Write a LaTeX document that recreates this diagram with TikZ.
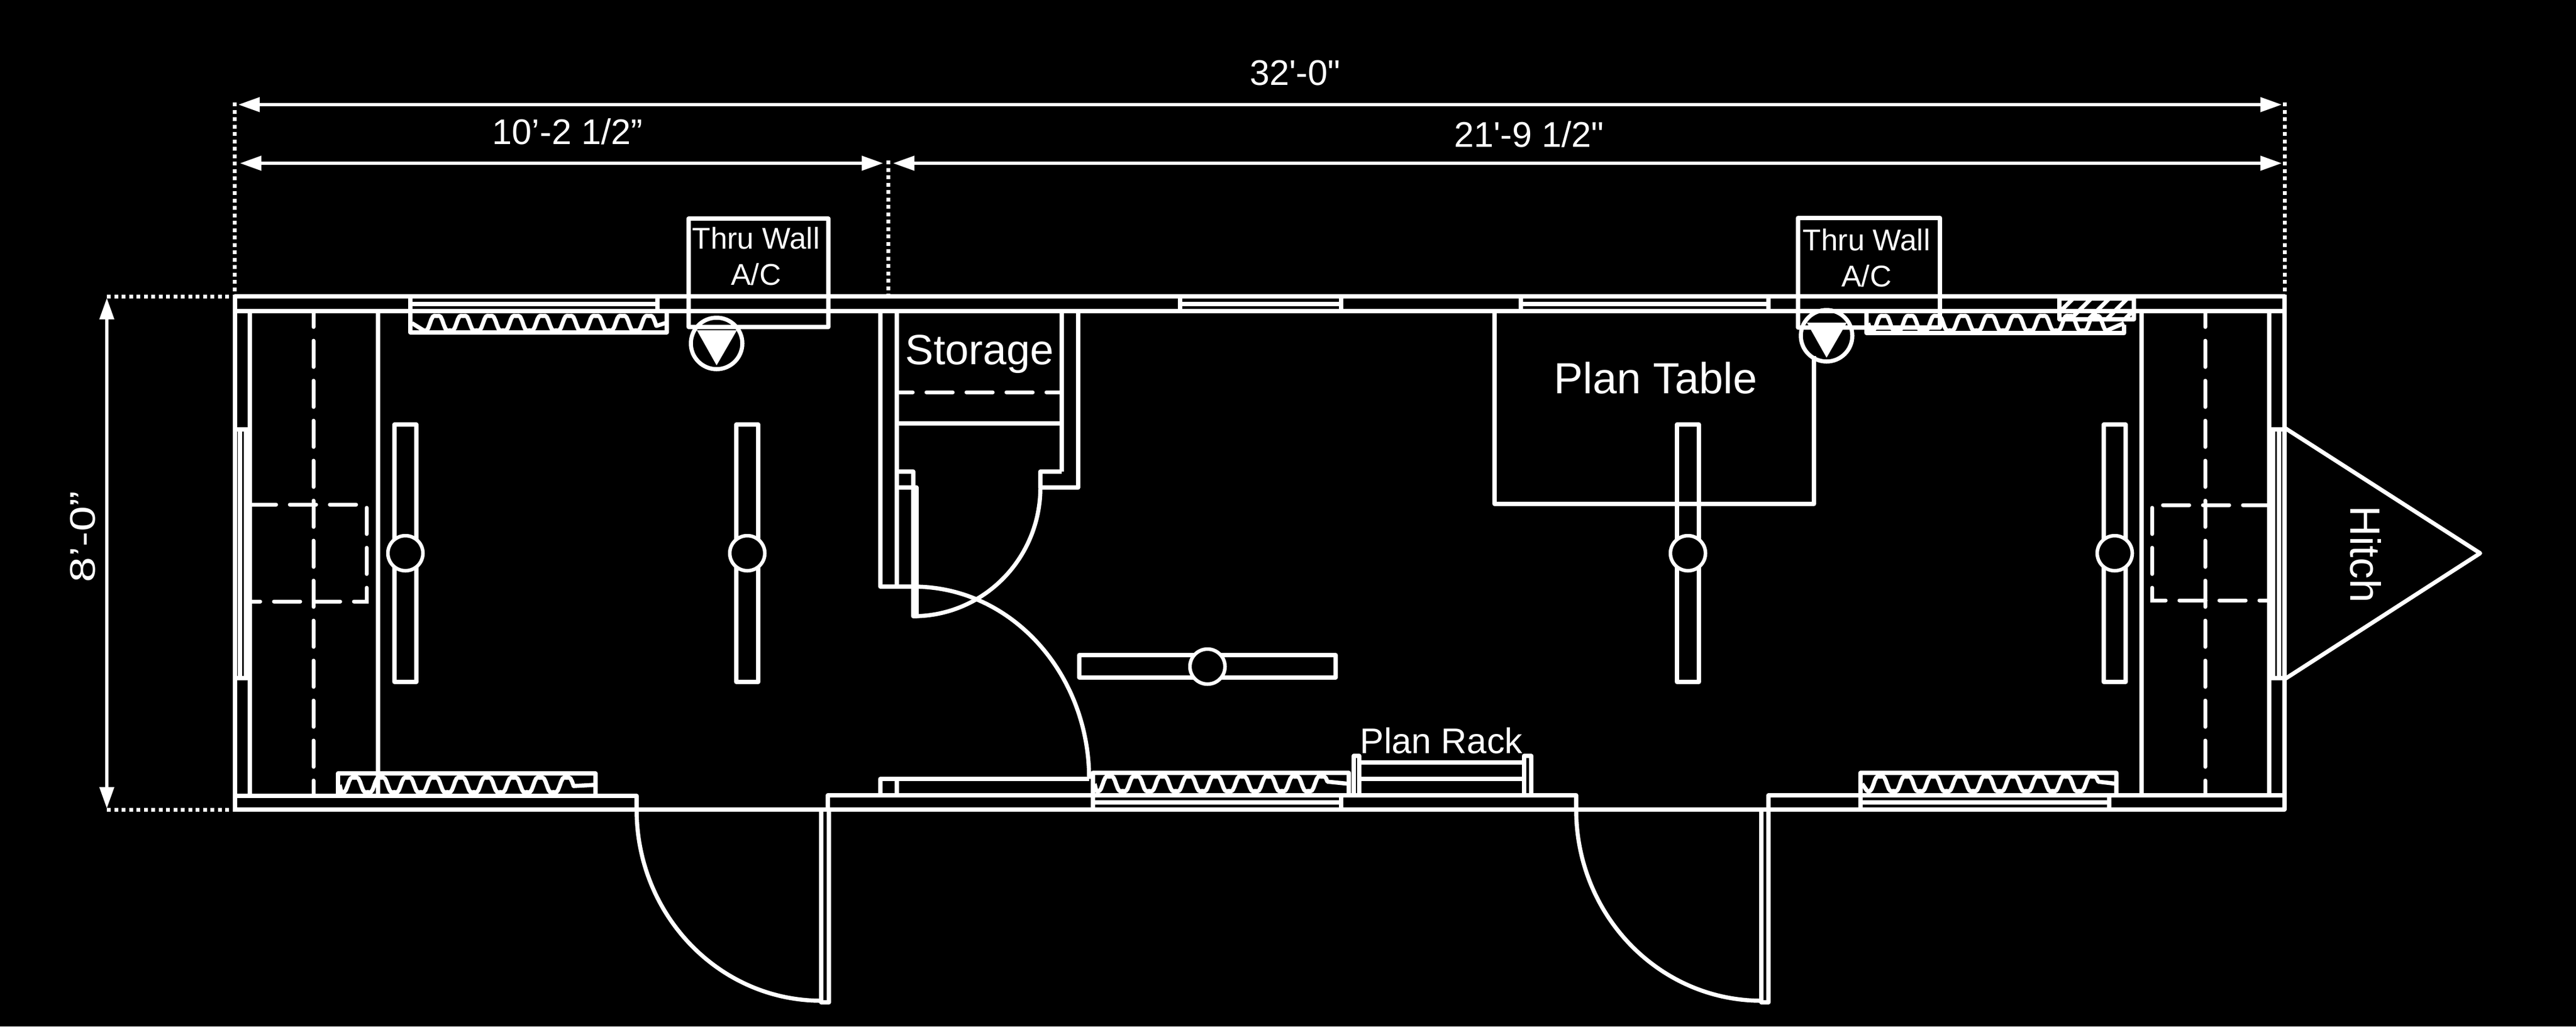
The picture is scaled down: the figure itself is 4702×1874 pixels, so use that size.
\documentclass[tikz,border=0pt]{standalone}
\usepackage{fontspec}
\setmainfont{Liberation Sans}
\usetikzlibrary{arrows.meta}

\tikzset{
        wall/.style={draw=white, line width=0.75mm, line join=round},
        dashwall/.style={draw=white, line width=0.7mm, line cap=round, dash pattern=on 4.8mm off 2.5mm},
        dotwall/.style={draw=white, line width=0.7mm, dash pattern=on 0.7mm off 0.65mm},
        dimwall/.style={draw=white, line width=0.55mm, {Triangle[length=3.9mm,width=2.6mm]}-{Triangle[length=3.9mm,width=2.6mm]}},
        hub/.style={circle, draw=white, fill=black, line width=0.65mm, minimum size=6.4mm, inner sep=0pt},
        thermo/.style={circle, draw=white, line width=0.75mm, minimum size=9.4mm, inner sep=0pt},
        dimtext/.style={text=white, inner sep=0pt, font=\fontsize{18.5}{22}\selectfont},
        smalltext/.style={text=white, inner sep=0pt, align=center, font=\fontsize{15.6}{18.7}\selectfont},
        bigtext/.style={text=white, inner sep=0pt, font=\fontsize{22}{26}\selectfont}
}

\newcommand{\heaterwave}[6]{
        \draw[wall] (#1,#6) -- plot[domain=#2:#3, samples=150] (\x,{#6-15.6*(cos(7.438*(\x-#4))-cos(22.31*(\x-#4))/6)}) -- (#5,#6);
}

\begin{document}
\begin{tikzpicture}[x=0.1mm, y=-0.1mm]
        \useasboundingbox (0,0) rectangle (4702,1874);
        \fill[black] (0,0) rectangle (4702,1874);

        \draw[wall] (429,541) rectangle (4170,1478);
        \draw[wall] (429,568) -- (4170,568);
        \draw[wall] (429,1453) -- (1162,1453) -- (1162,1478);
        \draw[wall] (1511,1478) -- (1511,1452) -- (2877,1452) -- (2877,1478);
        \draw[wall] (3228,1478) -- (3228,1452) -- (4170,1452);

        \foreach \ex/\ix/\wa/\wb in {429/456/438/449, 4170/4142/4160/4149} {
                \draw[wall] (\ix,568) -- (\ix,1452);
                \draw[wall] (\ex,784) -- (\ix,784) (\ex,1238) -- (\ix,1238);
                \draw[wall] (\wa,784) -- (\wa,1238) (\wb,784) -- (\wb,1238);
        }
        \draw[wall] (690,568) -- (690,1452);
        \draw[wall] (3909,568) -- (3909,1452);
        \draw[dashwall, dash phase=1.9mm] (572,568) -- (572,1452);
        \draw[dashwall, dash phase=1.9mm] (4025,568) -- (4025,1452);
        \draw[dashwall] (456,921) -- (669,921) -- (669,1098) -- (456,1098);
        \draw[dashwall] (4142,922) -- (3928,922) -- (3928,1096) -- (4142,1096);

        \foreach \wl/\wr in {749/1200, 2154/2448, 2776/3228} {
                \draw[wall] (\wl,541) -- (\wl,568) (\wr,541) -- (\wr,568);
                \draw[wall] (\wl,555) -- (\wr,555);
        }
        \foreach \wl/\wr in {1995/2448, 3396/3850} {
                \draw[wall] (\wl,1452) -- (\wl,1478) (\wr,1452) -- (\wr,1478);
                \draw[wall] (\wl,1465) -- (\wr,1465);
        }

        \draw[wall] (749,568) rectangle (1217,607);
        \heaterwave{752}{773}{1198}{797}{1214}{590}
        \draw[wall] (617,1453) -- (617,1412) -- (1087,1412) -- (1087,1453);
        \heaterwave{620}{623}{1047}{647}{1084}{1433}
        \draw[wall] (1995,1452) -- (1995,1411) -- (2462,1411) -- (2462,1452);
        \heaterwave{1998}{2001}{2423}{2025}{2462}{1431}
        \draw[wall] (3396,1452) -- (3396,1411) -- (3863,1411) -- (3863,1452);
        \heaterwave{3399}{3408}{3830}{3432}{3863}{1431}
        \draw[wall] (3407,568) -- (3407,608) -- (3877,608) -- (3877,593);
        \heaterwave{3410}{3414}{3845}{3438}{3877}{590}

        \draw[wall] (3759,545) rectangle (3895,583);
        \begin{scope}
                \clip (3759,545) rectangle (3895,583);
                \foreach \hx in {3746,3779,3812,3845,3878}
                        \draw[wall] (\hx,583) -- ++(38,-38);
        \end{scope}

        \draw[wall] (1257,399) rectangle (1512,597);
        \node[smalltext] (acleft) at (1380,468) {Thru Wall\\A/C};
        \draw[wall] (3282,398) rectangle (3541,598);
        \node[smalltext] (acright) at (3407,471) {Thru Wall\\A/C};
        \foreach \tx/\ty/\tn in {1308/627/thermoa, 3334/613/thermob} {
                \node[thermo] (\tn) at (\tx,\ty) {};
                \fill[white] (\tx-36,\ty-24) -- (\tx+37,\ty-24) -- (\tx,\ty+40) -- cycle;
        }

        \draw[wall] (1607,568) -- (1607,1071) -- (1668,1071);
        \draw[wall] (1637,568) -- (1637,1071);
        \draw[wall] (1938,568) -- (1938,861);
        \draw[wall] (1968,568) -- (1968,890) -- (1899,890) -- (1899,861) -- (1938,861);
        \draw[wall] (1637,861) -- (1667,861) -- (1667,890);
        \draw[wall] (1637,890) -- (1673,890);
        \draw[wall] (1667,890) rectangle (1673,1125);
        \draw[wall] (1899,890) arc[start angle=0, end angle=90, x radius=232, y radius=235];
        \draw[wall] (1637,773) -- (1938,773);
        \draw[dashwall, dash phase=1.9mm] (1637,716) -- (1938,716);
        \node[bigtext] (storage) at (1788,647) {Storage};

        \draw[wall] (1607,1452) -- (1607,1422) -- (1988,1422);
        \draw[wall] (1637,1422) -- (1637,1452);
        \draw[wall] (1988,1422) arc[start angle=0, end angle=-90, x radius=320, y radius=351];

        \foreach \fx in {740,1364,3081,3860} {
                \draw[wall] (\fx-20,775) rectangle (\fx+20,1245);
                \node[hub] (hub\fx) at (\fx,1010) {};
        }
        \draw[wall] (1970,1196) rectangle (2438,1237);
        \node[hub] (hubmid) at (2204,1217) {};

        \draw[wall] (2728,568) -- (2728,920) -- (3311,920) -- (3311,650);
        \node[bigtext, font=\fontsize{22.6}{26}\selectfont] (plantable) at (3022,690) {Plan Table};

        \draw[wall] (2471,1452) -- (2471,1380) -- (2481,1380) -- (2481,1452);
        \draw[wall] (2782,1452) -- (2782,1380) -- (2795,1380) -- (2795,1452);
        \draw[wall] (2481,1392) -- (2782,1392) (2481,1422) -- (2782,1422);
        \node[dimtext] (planrack) at (2631,1352) {Plan Rack};

        \draw[wall] (1162,1478) arc[start angle=180, end angle=90, x radius=337, y radius=349];
        \draw[wall] (1499,1478) -- (1499,1830) -- (1513,1830) -- (1513,1478);
        \draw[wall] (2877,1478) arc[start angle=180, end angle=90, x radius=338, y radius=349];
        \draw[wall] (3215,1478) -- (3215,1830) -- (3228,1830) -- (3228,1478);

        \draw[wall] (4170,781) -- (4527,1010) -- (4170,1240);
        \node[bigtext, rotate=-90] (hitch) at (4318,1012) {Hitch};

        \coordinate (dimla) at (435,191);
        \coordinate (dimlb) at (4165,191);
        \coordinate (dimma) at (438,298);
        \coordinate (dimmb) at (1612,298);
        \coordinate (dimna) at (1630,298);
        \coordinate (dimnb) at (4165,298);
        \coordinate (dimva) at (195,544);
        \coordinate (dimvb) at (195,1476);
        \draw[dimwall] (dimla) -- (dimlb);
        \draw[dimwall] (dimma) -- (dimmb);
        \draw[dimwall] (dimna) -- (dimnb);
        \draw[dimwall] (dimva) -- (dimvb);
        \node[dimtext] (dimlong) at (2364,133) {32\textquotesingle-0\textquotedbl};
        \node[dimtext] (dimleft) at (1036,240) {10’-2 1/2”};
        \node[dimtext] (dimright) at (2791,245) {21\textquotesingle-9 1/2\textquotedbl};
        \node[dimtext, rotate=90] (dimheight) at (151,980) {\scalebox{1.28}[1]{8’-0”}};

        \draw[dotwall] (428,187) -- (428,541);
        \draw[dotwall] (1621,293) -- (1621,541);
        \draw[dotwall] (4170,187) -- (4170,541);
        \draw[dotwall] (195,541) -- (429,541);
        \draw[dotwall] (195,1478) -- (429,1478);
\end{tikzpicture}
\end{document}
